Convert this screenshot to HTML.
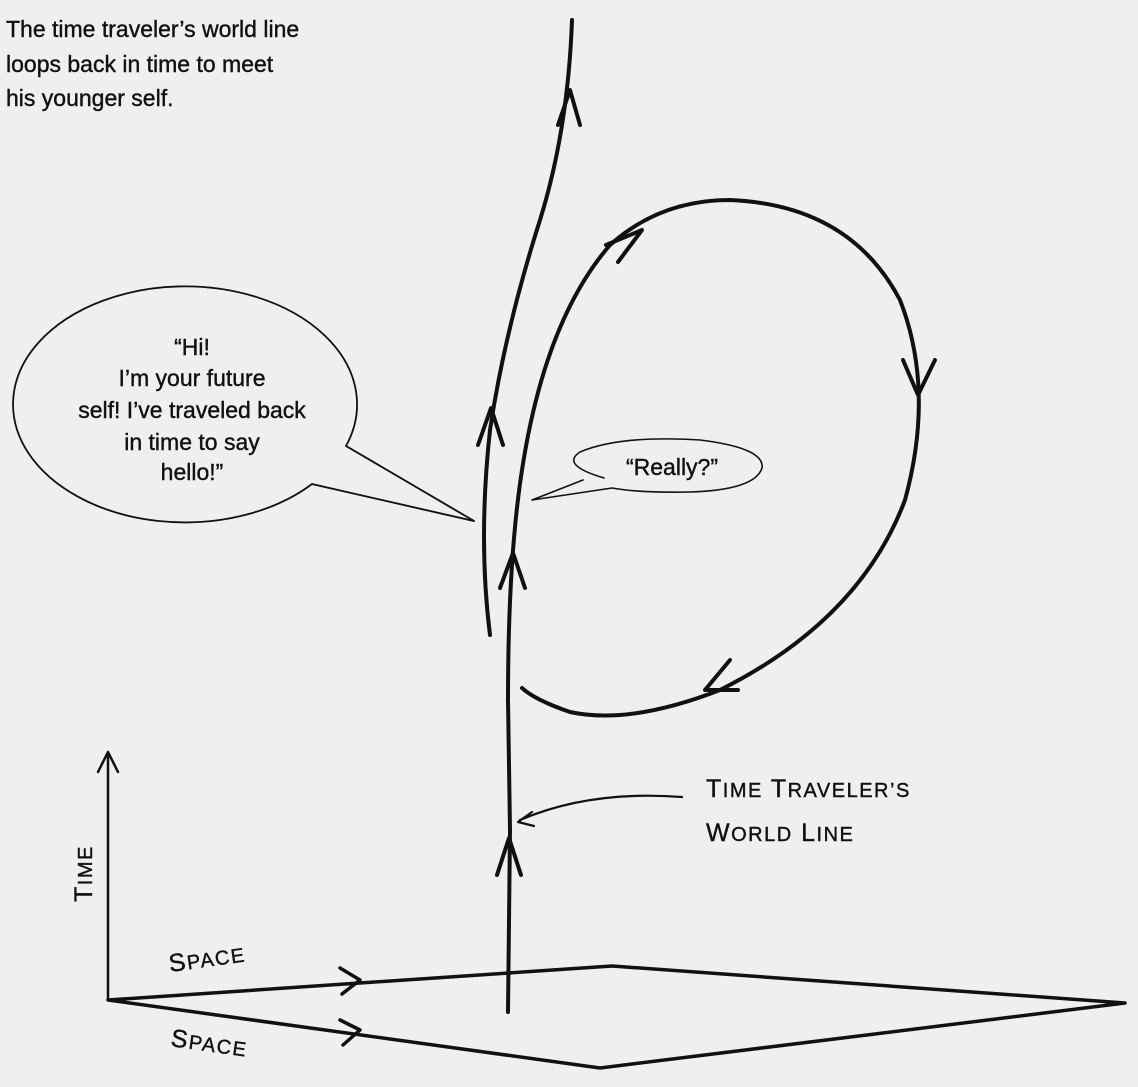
<!DOCTYPE html>
<html><head><meta charset="utf-8"><style>
body{margin:0;background:#efefef;}
svg{display:block}
text{font-family:"Liberation Sans",sans-serif;fill:#111}
</style></head><body>
<svg width="1138" height="1087" viewBox="0 0 1138 1087">
<rect width="1138" height="1087" fill="#efefef"/>
<g font-size="23" stroke="#111" stroke-width="0.4">
<text x="6" y="37">The time traveler’s world line</text>
<text x="6" y="72">loops back in time to meet</text>
<text x="6" y="106">his younger self.</text>
</g>
<g fill="none" stroke="#111" stroke-linecap="round" stroke-linejoin="round">
<path d="M108 1000 V752 M98 772 L108 752 L118 772" stroke-width="2.5"/>
<path d="M108 1000 L612 966 L1125 1003 L600 1068 Z" stroke-width="3.5"/>
<path d="M340 968 L360 980 L342 994 M340 1020 L360 1030 L343 1045" stroke-width="3.5"/>
<path d="M508 1012 L510 830 L508 700 Q508 560 522 470 Q545 320 610 245 Q660 200 730 200 Q850 205 900 300 Q935 390 905 500 Q860 620 720 690 Q630 725 570 712 Q535 700 522 688" stroke-width="4"/>
<path d="M490 635 Q478 540 490 430 Q505 330 540 220 Q568 130 572 20" stroke-width="4"/>
<path d="M497 875 L509 838 L521 875" stroke-width="4"/>
<path d="M500 588 L513 553 L525 588" stroke-width="4"/>
<path d="M478 445 L491 408 L503 445" stroke-width="4"/>
<path d="M558 125 L570 90 L580 125" stroke-width="4"/>
<path d="M606 245 L642 230 L618 262" stroke-width="4"/>
<path d="M903 360 L918 395 L935 360" stroke-width="4"/>
<path d="M730 660 L705 690 L738 690" stroke-width="4"/>
<path d="M682 797 Q590 790 520 820 M532 812 L518 822 L534 826" stroke-width="2.2"/>
<path d="M346 446 A172 118 0 1 0 312 484 L474 521 Z" stroke-width="1.8" fill="#efefef"/>
<path d="M346 446 L474 521 L312 484" stroke-width="1.8" fill="#efefef"/>
<path d="M604 478 Q560 465 580 452 Q620 435 700 440 Q765 448 762 468 Q755 490 690 492 Q640 493 612 488 L532 500 L583 480" stroke-width="1.6" fill="#efefef"/>
</g>
<g font-size="23" text-anchor="middle" stroke="#111" stroke-width="0.4">
<text x="192" y="355">“Hi!</text>
<text x="192" y="386">I’m your future</text>
<text x="192" y="418">self! I’ve traveled back</text>
<text x="192" y="450">in time to say</text>
<text x="192" y="480">hello!”</text>
<text x="672" y="475">“Really?”</text>
</g>
<g font-size="25" letter-spacing="1.5" stroke="#111" stroke-width="0.4">
<text x="706" y="797">T<tspan font-size="20">IME</tspan> T<tspan font-size="20">RAVELER’S</tspan></text>
<text x="706" y="841">W<tspan font-size="20">ORLD</tspan> L<tspan font-size="20">INE</tspan></text>
<text transform="translate(92,902) rotate(-90)">T<tspan font-size="20">IME</tspan></text>
<text transform="translate(170,972) rotate(-8)">S<tspan font-size="20">PACE</tspan></text>
<text transform="translate(170,1046) rotate(8)">S<tspan font-size="20">PACE</tspan></text>
</g>
</svg>
</body></html>
